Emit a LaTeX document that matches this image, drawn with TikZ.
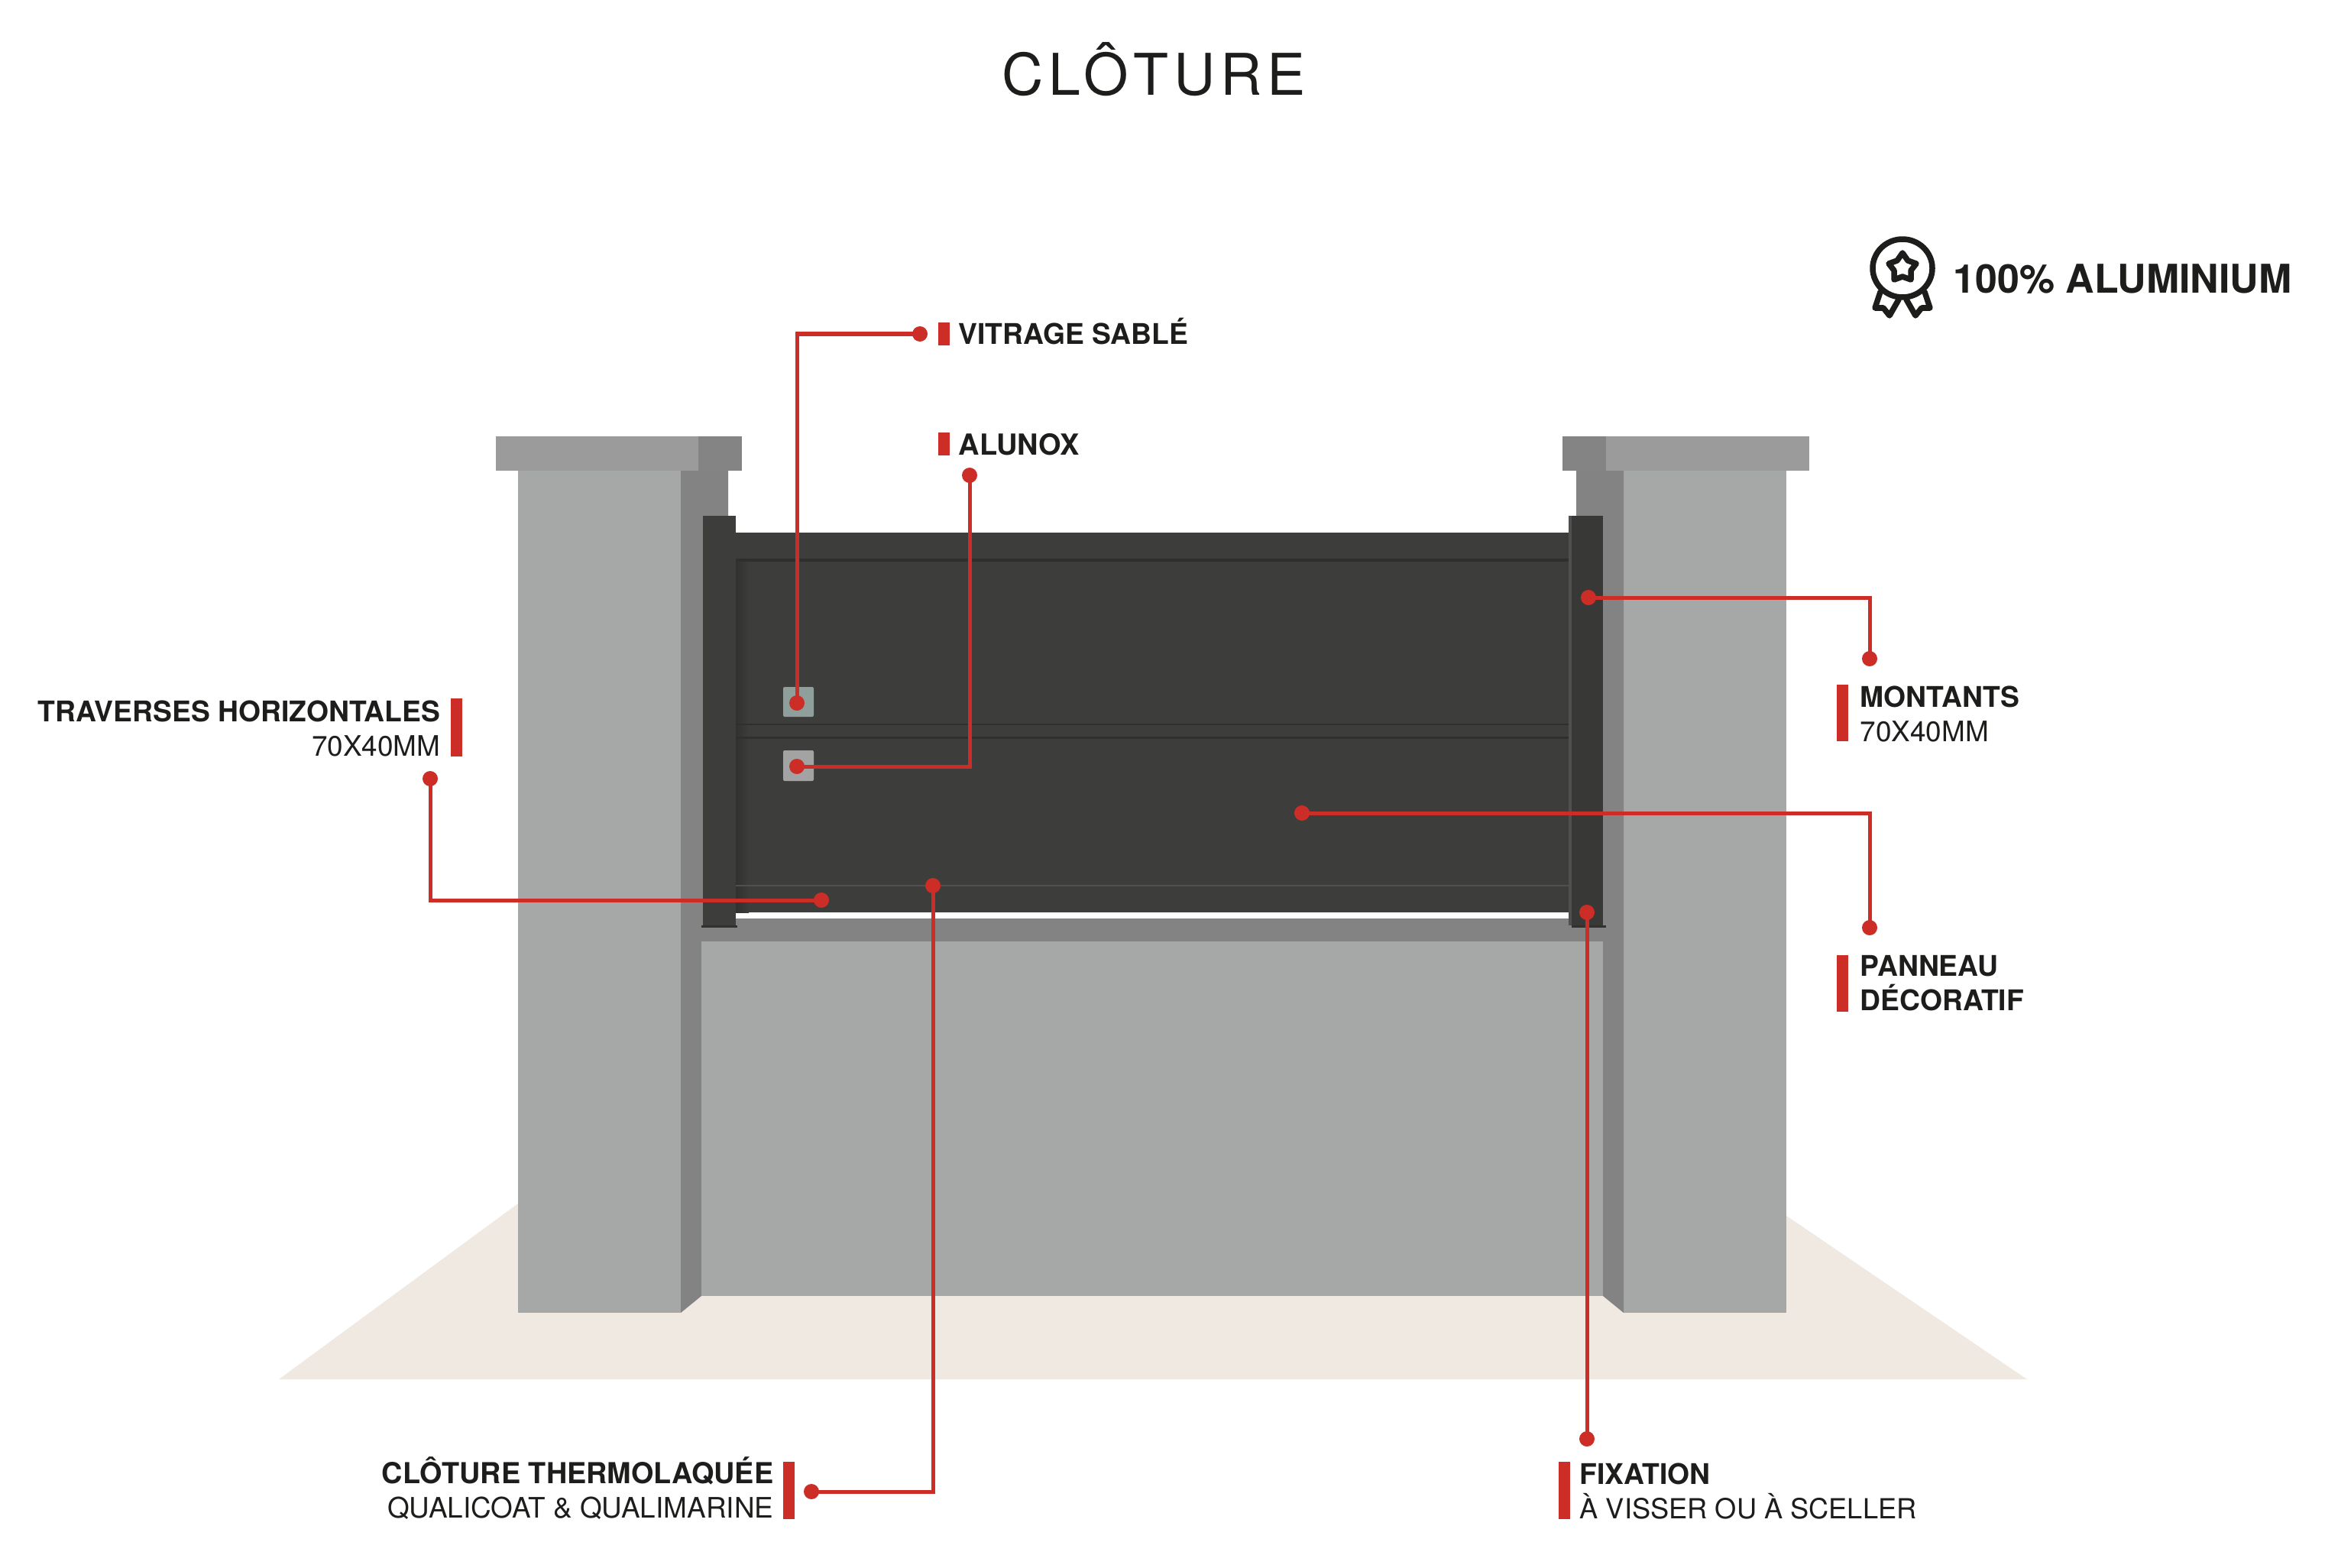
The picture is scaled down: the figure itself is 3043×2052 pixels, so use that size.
\documentclass[tikz,border=0pt]{standalone}
\usepackage{fontspec}
\setmainfont{TeX Gyre Heros}
\newfontfamily\titlefont[LetterSpace=9]{TeX Gyre Heros}
\definecolor{postLight}{HTML}{A6A8A7}
\definecolor{postSide}{HTML}{838383}
\definecolor{capLight}{HTML}{9B9B9B}
\definecolor{capDark}{HTML}{848484}
\definecolor{groundBeige}{HTML}{F0E9E2}
\definecolor{panelDark}{HTML}{3D3D3C}
\definecolor{railDark}{HTML}{2C2C2B}
\definecolor{railLight}{HTML}{505050}
\definecolor{calloutRed}{HTML}{CC2D27}
\definecolor{inkBlack}{HTML}{1D1D1B}
\definecolor{glassGrey}{HTML}{8F9F9C}
\definecolor{alunoxGrey}{HTML}{A3A3A3}
\tikzset{
  calloutDot/.style={circle, fill=calloutRed, minimum size=0.2cm, inner sep=0pt},
  calloutLine/.style={draw=calloutRed, line width=0.05cm},
  calloutBar/.style={rectangle, fill=calloutRed, minimum width=0.15cm, inner sep=0pt},
  labelText/.style={inner sep=0pt, text=inkBlack, font=\fontsize{10.5}{12.8}\selectfont},
  boldText/.style={inner sep=0pt, text=inkBlack, font=\bfseries\fontsize{10.6}{12.8}\selectfont},
  medalLine/.style={draw=inkBlack, line width=0.075cm, line join=round, line cap=round}
}
\begin{document}
\begin{tikzpicture}[x=0.01cm, y=-0.01cm]
  \useasboundingbox (0, 0) rectangle (3043, 2052);
  % ground and masonry
  \fill[groundBeige] (365, 1805) -- (678, 1575) -- (2338, 1591) -- (2653, 1805) -- cycle;
  \fill[postLight] (678, 616) rectangle (891, 1718);
  \fill[postSide] (891, 616) -- (953, 616) -- (953, 1500) -- (918, 1696) -- (891, 1718) -- cycle;
  \fill[capLight] (649, 571) rectangle (914, 616);
  \fill[capDark] (914, 571) rectangle (971, 616);
  \fill[postLight] (2125, 616) rectangle (2338, 1718);
  \fill[postSide] (2063, 616) -- (2125, 616) -- (2125, 1718) -- (2098, 1696) -- (2063, 1500) -- cycle;
  \fill[capDark] (2045, 571) rectangle (2102, 616);
  \fill[capLight] (2102, 571) rectangle (2368, 616);
  \fill[postSide] (918, 1202) rectangle (2098, 1232);
  \fill[postLight] (918, 1232) rectangle (2098, 1696);
  \fill[white] (965, 1190) rectangle (2053, 1202);
  % panel
  \fill[panelDark] (962, 697) rectangle (2056, 1194);
  \fill[left color=railDark!75!panelDark, right color=panelDark] (962, 735) rectangle (980, 1194);
  \fill[railDark!85!panelDark] (962, 731) rectangle (2056, 735);
  \fill[railDark!85!panelDark] (962, 947) rectangle (2056, 949);
  \fill[railDark!85!panelDark] (962, 964) rectangle (2056, 967);
  \fill[railLight] (962, 1158) rectangle (2056, 1160);
  % mounts
  \fill[panelDark] (920, 675) rectangle (963, 1211);
  \fill[railDark!70!panelDark] (918, 1211) rectangle (965, 1214);
  \fill[railLight] (2053, 675) rectangle (2057, 1211);
  \fill[panelDark!92!black] (2057, 675) rectangle (2098, 1211);
  \fill[railDark!70!panelDark] (2057, 1211) rectangle (2102, 1214);
  % sample squares
  \fill[glassGrey, rounded corners=0.02cm] (1025, 899) rectangle (1065, 938);
  \fill[alunoxGrey, rounded corners=0.02cm] (1025, 982) rectangle (1065, 1022);
  % title and badge
  \node[anchor=base, inner sep=0pt, text=inkBlack, font=\titlefont\fontsize{21.4}{26}\selectfont] (titleText) at (1510, 125) {CLÔTURE};
  \draw[medalLine] (2490, 351) ellipse (39 and 38);
  \draw[medalLine] (2490, 331) -- (2497, 341) -- (2508, 345) -- (2501, 354) -- (2501, 366) -- (2490, 362) -- (2479, 366) -- (2479, 354) -- (2472, 345) -- (2483, 341) -- cycle;
  \draw[medalLine] (2461, 382) -- (2454, 403) -- (2465, 403) -- (2473, 413) -- (2485, 392);
  \draw[medalLine] (2519, 382) -- (2526, 403) -- (2515, 403) -- (2507, 413) -- (2495, 392);
  \node[anchor=west, inner sep=0pt, text=inkBlack, font=\bfseries\fontsize{14.75}{17}\selectfont] (aluminiumText) at (2556, 365) {100\% ALUMINIUM};
  % label bars
  \node[calloutBar, minimum height=0.3cm] (vitrageBar) at (1235, 437) {};
  \node[calloutBar, minimum height=0.3cm] (alunoxBar) at (1235, 581) {};
  \node[calloutBar, minimum height=0.76cm] (traversesBar) at (597, 952) {};
  \node[calloutBar, minimum height=0.73cm] (montantsBar) at (2411, 933) {};
  \node[calloutBar, minimum height=0.74cm] (panneauBar) at (2411, 1287) {};
  \node[calloutBar, minimum height=0.75cm] (thermoBar) at (1032, 1950) {};
  \node[calloutBar, minimum height=0.75cm] (fixationBar) at (2047, 1950) {};
  % label texts
  \node[boldText, anchor=west] (vitrageText) at (1254, 434) {VITRAGE SABLÉ};
  \node[boldText, anchor=west, font=\bfseries\fontsize{10.8}{12.8}\selectfont] (alunoxText) at (1254, 582) {ALUNOX};
  \node[labelText, anchor=east, align=right] (traversesText) at (577, 953) {\textbf{\fontsize{10.6}{12.8}\selectfont TRAVERSES HORIZONTALES}\\70X40MM};
  \node[labelText, anchor=west, align=left] (montantsText) at (2434, 934) {\textbf{\fontsize{10.6}{12.8}\selectfont MONTANTS}\\70X40MM};
  \node[labelText, anchor=west, align=left] (panneauText) at (2434, 1287) {\textbf{\fontsize{10.6}{12.8}\selectfont PANNEAU}\\\textbf{\fontsize{10.6}{12.8}\selectfont DÉCORATIF}};
  \node[labelText, anchor=east, align=right] (thermoText) at (1013, 1948) {\textbf{\fontsize{10.75}{12.8}\selectfont CLÔTURE THERMOLAQUÉE}\\QUALICOAT \& QUALIMARINE};
  \node[labelText, anchor=west, align=left] (fixationText) at (2067, 1951) {\textbf{\fontsize{10.6}{12.8}\selectfont FIXATION}\\{\fontsize{10.3}{12.8}\selectfont À VISSER OU À SCELLER}};
  % callouts
  \node[calloutDot] (vitrageEnd) at (1204, 437) {};
  \node[calloutDot] (vitrageDot) at (1043, 920) {};
  \node[calloutDot] (alunoxEnd) at (1269, 622) {};
  \node[calloutDot] (alunoxDot) at (1043, 1003) {};
  \node[calloutDot] (traversesEnd) at (563, 1019) {};
  \node[calloutDot] (traversesDot) at (1075, 1178) {};
  \node[calloutDot] (montantsEnd) at (2447, 862) {};
  \node[calloutDot] (montantsDot) at (2079, 782) {};
  \node[calloutDot] (panneauEnd) at (2447, 1214) {};
  \node[calloutDot] (panneauDot) at (1704, 1064) {};
  \node[calloutDot] (thermoEnd) at (1062, 1952) {};
  \node[calloutDot] (thermoDot) at (1221, 1159) {};
  \node[calloutDot] (fixationEnd) at (2077, 1883) {};
  \node[calloutDot] (fixationDot) at (2077, 1194) {};
  \draw[calloutLine] (vitrageDot.center) |- (vitrageEnd.center);
  \draw[calloutLine] (alunoxDot.center) -| (alunoxEnd.center);
  \draw[calloutLine] (traversesEnd.center) |- (traversesDot.center);
  \draw[calloutLine] (montantsDot.center) -| (montantsEnd.center);
  \draw[calloutLine] (panneauDot.center) -| (panneauEnd.center);
  \draw[calloutLine] (thermoDot.center) |- (thermoEnd.center);
  \draw[calloutLine] (fixationDot.center) -- (fixationEnd.center);
\end{tikzpicture}
\end{document}
